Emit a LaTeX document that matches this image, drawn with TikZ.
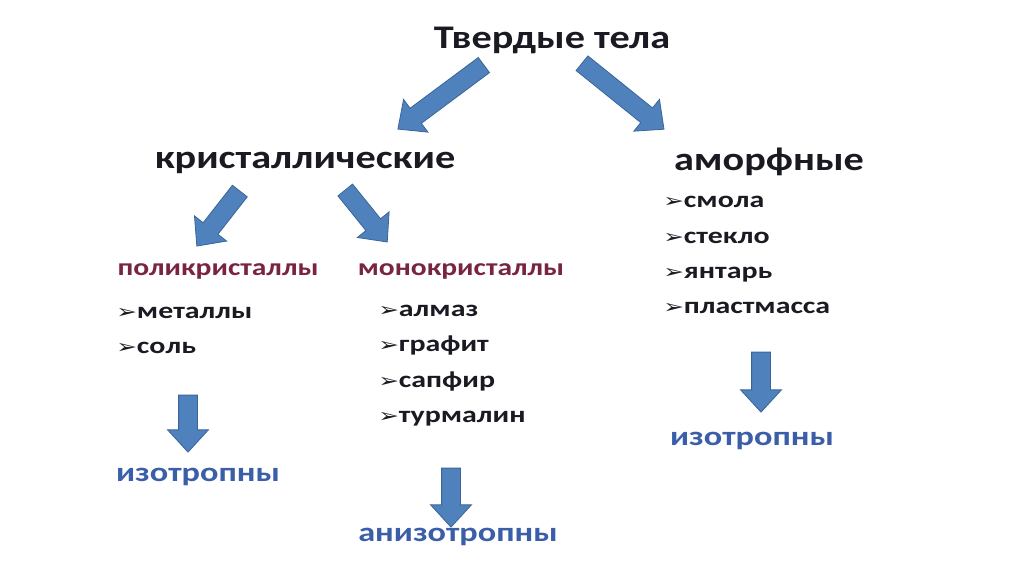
\documentclass[tikz,border=0pt]{standalone}
\usepackage{fontspec}
\setmainfont{Carlito}
\newfontfamily\symfont{DejaVu Sans}
\usetikzlibrary{shapes.arrows,calc}
\definecolor{arrowfill}{HTML}{4F81BD}
\definecolor{arrowline}{HTML}{3A6598}
\definecolor{txt}{HTML}{1A1A22}
\definecolor{maroon}{HTML}{7A2444}
\definecolor{bluetxt}{HTML}{3A5EA8}
\tikzset{
  barrowshape/.style={single arrow, draw=arrowline, fill=arrowfill, line width=0.8pt,
    inner xsep=0pt, inner ysep=9pt, single arrow head extend=11pt, single arrow tip angle=85,
    anchor=center},
  title/.style={font=\bfseries\fontsize{33}{36}\selectfont, text=txt, inner sep=0pt, xscale=1.22},
  sub/.style={font=\bfseries\fontsize{24}{28}\selectfont, text=maroon, inner sep=0pt, xscale=1.23},
  item/.style={font=\bfseries\fontsize{23}{26}\selectfont, text=txt, inner sep=0pt, anchor=west, xscale=1.3,
    text height=11pt, text depth=0pt},
  res/.style={font=\bfseries\fontsize{27}{30}\selectfont, text=bluetxt, inner sep=0pt, xscale=1.27},
}
\newcommand\blockarrow[2]{%
  \path let \p1=(#1), \p2=(#2), \n1={atan2(\y2-\y1,\x2-\x1)}, \n2={veclen(\x2-\x1,\y2-\y1)} in
    node[barrowshape, minimum height=\n2, rotate=\n1] at ($(#1)!0.5!(#2)$) {};}
\newcommand\bul{{\symfont\fontsize{19}{20}\selectfont ➢}}
\begin{document}
\begin{tikzpicture}[x=1pt,y=-1pt]
\useasboundingbox[fill=white] (0,0) rectangle (1024,574);
% texts
\node[title] (top) at (552,40) {Твердые тела};
\node[title] (kr) at (305,163) {кристаллические};
\node[title] (am) at (769,162) {аморфные};
\node[sub] (poly) at (218,271) {поликристаллы};
\node[sub] (mono) at (461,271) {монокристаллы};
\node[item] (m1) at (116,313) {\bul металлы};
\node[item] (m2) at (116,348) {\bul соль};
\node[item] (c1) at (378,311) {\bul алмаз};
\node[item] (c2) at (378,346) {\bul графит};
\node[item] (c3) at (378,382) {\bul сапфир};
\node[item] (c4) at (378,417) {\bul турмалин};
\node[item] (a1) at (663,202) {\bul смола};
\node[item] (a2) at (663,238) {\bul стекло};
\node[item] (a3) at (663,273) {\bul янтарь};
\node[item] (a4) at (663,308) {\bul пластмасса};
\node[res] (iso1) at (198,477) {изотропны};
\node[res] (aniso) at (458,537) {анизотропны};
\node[res] (iso2) at (752,441) {изотропны};
% arrow endpoints
\coordinate (s1) at (488,62); \coordinate (e1) at (402,126);
\coordinate (s2) at (578,60); \coordinate (e2) at (660,126);
\coordinate (s3) at (243,187); \coordinate (e3) at (200,242);
\coordinate (s4) at (342,186); \coordinate (e4) at (384,238);
\coordinate (s5) at (188,390); \coordinate (e5) at (188,447);
\coordinate (s6) at (451,463); \coordinate (e6) at (451,522);
\coordinate (s7) at (761,347); \coordinate (e7) at (761,407);
\blockarrow{s1}{e1}
\blockarrow{s2}{e2}
\blockarrow{s3}{e3}
\blockarrow{s4}{e4}
\blockarrow{s5}{e5}
\blockarrow{s6}{e6}
\blockarrow{s7}{e7}
\end{tikzpicture}
\end{document}
